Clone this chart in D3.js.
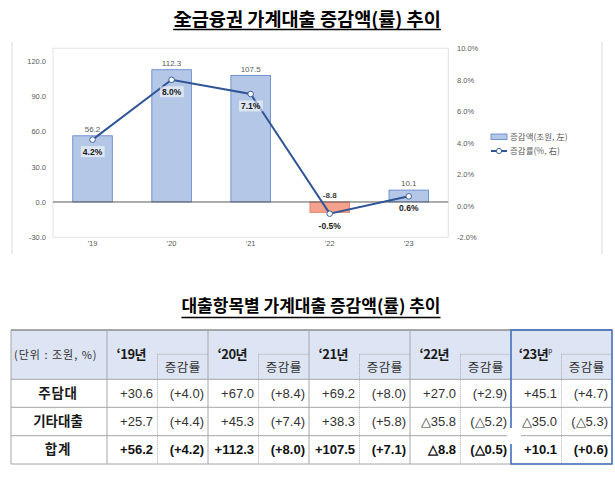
<!DOCTYPE html>
<html>
<head>
<meta charset="utf-8">
<script src="https://cdn.jsdelivr.net/npm/d3@7"></script>
<style>
  html, body { margin: 0; padding: 0; background: #fff; }
  svg { display: block; }
</style>
</head>
<body>
<svg id="chart" width="615" height="477"></svg>
<script>
// ---------------- DATA ----------------
const chartTitle = "全금융권 가계대출 증감액(률) 추이";
const tableTitle = "대출항목별 가계대출 증감액(률) 추이";
const years = ["'19", "'20", "'21", "'22", "'23"];
const amounts = [56.2, 112.3, 107.5, -8.8, 10.1];      // 증감액 (조원, 左)
const rates = [4.2, 8.0, 7.1, -0.5, 0.6];              // 증감률 (%, 右)
const leftTicks = [-30, 0, 30, 60, 90, 120];
const rightTicks = [-2, 0, 2, 4, 6, 8, 10];
const legendLabels = ["증감액(조원, 左)", "증감률(%, 右)"];

const tableYears = ["‘19년", "‘20년", "‘21년", "‘22년", "‘23년"];
const unitLabel = "(단위 : 조원, %)";
const rateHeader = "증감률";
const rowLabels = ["주담대", "기타대출", "합계"];
const mortgageAmt = [30.6, 67.0, 69.2, 27.0, 45.1];
const mortgageRate = [4.0, 8.4, 8.0, 2.9, 4.7];
const otherAmt = [25.7, 45.3, 38.3, -35.8, -35.0];
const otherRate = [4.4, 7.4, 5.8, -5.2, -5.3];
const totalAmt = [56.2, 112.3, 107.5, -8.8, 10.1];
const totalRate = [4.2, 8.0, 7.1, -0.5, 0.6];

// ---------------- SETUP ----------------
const svg = d3.select("#chart");
const KR = "'Noto Sans CJK KR', 'Noto Sans', sans-serif";
const NUM = "'Liberation Sans', Arial, sans-serif";
const loc = d3.formatLocale({ decimal: ".", thousands: ",", grouping: [3], currency: ["", ""], minus: "-" });
const f1 = loc.format(".1f");

// ---------------- TITLES ----------------
function underlinedTitle(text, cx, baseline, size, underlineY) {
  const t = svg.append("text")
    .attr("x", cx).attr("y", baseline)
    .attr("text-anchor", "middle")
    .attr("font-family", KR).attr("font-weight", "bold")
    .attr("font-size", size).attr("fill", "#000")
    .text(text);
  const bb = t.node().getBBox();
  svg.append("line")
    .attr("x1", bb.x).attr("x2", bb.x + bb.width)
    .attr("y1", underlineY).attr("y2", underlineY)
    .attr("stroke", "#000").attr("stroke-width", 1.3);
}
underlinedTitle(chartTitle, 307, 25.5, 18.6, 29.5);

// ---------------- CHART FRAME ----------------
svg.append("line").attr("x1", 12).attr("x2", 12).attr("y1", 42).attr("y2", 254)
  .attr("stroke", "#d9d9d9").attr("stroke-width", 1);
svg.append("line").attr("x1", 602).attr("x2", 602).attr("y1", 42).attr("y2", 254)
  .attr("stroke", "#d9d9d9").attr("stroke-width", 1);

const plot = { left: 53, right: 448.3, top: 48.3, bottom: 237.3 };

const x = d3.scaleBand().domain(years).range([plot.left, plot.right])
  .paddingInner(0.5).paddingOuter(0.25);
const yL = d3.scaleLinear().domain([-30, 130.5]).range([plot.bottom, plot.top]);
const yR = d3.scaleLinear().domain([-2, 10]).range([plot.bottom, plot.top]);

// plot area border
svg.append("rect")
  .attr("x", plot.left).attr("y", plot.top)
  .attr("width", plot.right - plot.left).attr("height", plot.bottom - plot.top)
  .attr("fill", "none").attr("stroke", "#e3e3e3").attr("stroke-width", 1);

// left axis
const axL = d3.axisLeft(yL).tickValues(leftTicks).tickSize(0).tickPadding(0)
  .tickFormat(f1);
const gL = svg.append("g").attr("transform", "translate(46,0)").call(axL);
gL.select(".domain").remove();
gL.selectAll("text").attr("font-family", NUM).attr("font-size", 7.5).attr("fill", "#595959");

// right axis
const axR = d3.axisRight(yR).tickValues(rightTicks).tickSize(0).tickPadding(0)
  .tickFormat(d => f1(d) + "%");
const gR = svg.append("g").attr("transform", "translate(457,0)").call(axR);
gR.select(".domain").remove();
gR.selectAll("text").attr("font-family", NUM).attr("font-size", 7.5).attr("fill", "#595959");

// x labels
const axX = d3.axisBottom(x).tickSize(0).tickPadding(0);
const gX = svg.append("g").attr("transform", "translate(0,241)").call(axX);
gX.select(".domain").remove();
gX.selectAll("text").attr("font-family", NUM).attr("font-size", 7.5).attr("fill", "#595959");

// bars
const bars = years.map((y, i) => ({ y, v: amounts[i], r: rates[i] }));
svg.append("g").selectAll("rect").data(bars).join("rect")
  .attr("x", d => x(d.y))
  .attr("width", x.bandwidth())
  .attr("y", d => yL(Math.max(0, d.v)))
  .attr("height", d => Math.abs(yL(d.v) - yL(0)))
  .attr("fill", d => d.v < 0 ? "#f5a28c" : "#b4c7e7")
  .attr("stroke", d => d.v < 0 ? "#e0785e" : "#5b80c8")
  .attr("stroke-width", 0.8);

// zero line
svg.append("line")
  .attr("x1", plot.left).attr("x2", plot.right)
  .attr("y1", yL(0)).attr("y2", yL(0))
  .attr("stroke", "#595959").attr("stroke-width", 1);

// value labels
svg.append("g").selectAll("text").data(bars).join("text")
  .attr("x", d => x(d.y) + x.bandwidth() / 2)
  .attr("y", d => yL(Math.max(0, d.v)) - 6.5)
  .attr("dy", "0.35em")
  .attr("text-anchor", "middle")
  .attr("font-family", NUM).attr("font-size", 8)
  .attr("font-weight", d => d.v < 0 ? "bold" : "normal")
  .attr("fill", d => d.v < 0 ? "#404040" : "#595959")
  .text(d => f1(d.v));

// line
const line = d3.line().x(d => x(d.y) + x.bandwidth() / 2).y(d => yR(d.r));
svg.append("path").datum(bars)
  .attr("d", line).attr("fill", "none")
  .attr("stroke", "#2f5597").attr("stroke-width", 2);
svg.append("g").selectAll("circle").data(bars).join("circle")
  .attr("cx", d => x(d.y) + x.bandwidth() / 2)
  .attr("cy", d => yR(d.r))
  .attr("r", 2.8)
  .attr("fill", "#fff").attr("stroke", "#2f5597").attr("stroke-width", 0.9);

// rate labels with light boxes
const rl = svg.append("g").selectAll("g").data(bars).join("g");
rl.each(function (d) {
  const g = d3.select(this);
  const cx = x(d.y) + x.bandwidth() / 2;
  const cy = yR(d.r) + 12;
  const t = g.append("text")
    .attr("x", cx).attr("y", cy).attr("dy", "0.35em")
    .attr("text-anchor", "middle")
    .attr("font-family", NUM).attr("font-size", 8.5).attr("font-weight", "bold")
    .attr("fill", "#1a1a1a")
    .text(f1(d.r) + "%");
  const bb = t.node().getBBox();
  g.insert("rect", "text")
    .attr("x", bb.x - 2).attr("y", bb.y - 0.5)
    .attr("width", bb.width + 4).attr("height", bb.height + 1)
    .attr("fill", "#fff").attr("opacity", 0.55);
});

// legend
const lg = svg.append("g");
lg.append("rect").attr("x", 491).attr("y", 134).attr("width", 16).attr("height", 5.5)
  .attr("fill", "#b4c7e7").attr("stroke", "#5b80c8").attr("stroke-width", 0.8);
lg.append("text").attr("x", 510).attr("y", 137).attr("dy", "0.35em")
  .attr("font-family", KR).attr("font-size", 8.5).attr("fill", "#595959")
  .text(legendLabels[0]);
lg.append("line").attr("x1", 491).attr("x2", 507).attr("y1", 151).attr("y2", 151)
  .attr("stroke", "#2f5597").attr("stroke-width", 2);
lg.append("circle").attr("cx", 499).attr("cy", 151).attr("r", 2.6)
  .attr("fill", "#fff").attr("stroke", "#2f5597").attr("stroke-width", 0.9);
lg.append("text").attr("x", 510).attr("y", 151).attr("dy", "0.35em")
  .attr("font-family", KR).attr("font-size", 8.5).attr("fill", "#595959")
  .text(legendLabels[1]);

underlinedTitle(tableTitle, 311, 312, 17, 317.5);

// ---------------- TABLE ----------------
const T = { left: 11, right: 612, top: 330, headBottom: 379.3, bottom: 464 };
const rowLines = [T.headBottom, 407.3, 435.7, T.bottom];
const rowCenters = [393.5, 421.7, 449.5];
const colX = d3.scaleBand().domain(tableYears).range([107, T.right]);
const gw = colX.bandwidth();
const half = gw / 2;
const tb = svg.append("g");

// header background
tb.append("rect").attr("x", T.left).attr("y", T.top)
  .attr("width", T.right - T.left).attr("height", T.headBottom - T.top)
  .attr("fill", "#dde4f4");

// horizontal lines
tb.selectAll("line.h").data(rowLines).join("line").attr("class", "h")
  .attr("x1", T.left).attr("x2", T.right)
  .attr("y1", d => d).attr("y2", d => d)
  .attr("stroke", "#a6a6a6").attr("stroke-width", 1);
tb.append("line").attr("x1", T.left).attr("x2", T.right)
  .attr("y1", T.top).attr("y2", T.top)
  .attr("stroke", "#8c8c8c").attr("stroke-width", 1.5);

// vertical solid lines
const solidX = [T.left, 107].concat(tableYears.map(y => colX(y) + gw));
tb.selectAll("line.v").data(solidX).join("line").attr("class", "v")
  .attr("x1", d => d).attr("x2", d => d)
  .attr("y1", T.top).attr("y2", T.bottom)
  .attr("stroke", "#a6a6a6").attr("stroke-width", 1);

// dotted sub-column lines and header dotted separators
tableYears.forEach(y => {
  const xm = colX(y) + half;
  tb.append("line").attr("x1", xm).attr("x2", xm)
    .attr("y1", 354.3).attr("y2", T.bottom)
    .attr("stroke", "#9a9a9a").attr("stroke-width", 0.8).attr("stroke-dasharray", "1,1");
  tb.append("line").attr("x1", xm).attr("x2", colX(y) + gw)
    .attr("y1", 354.3).attr("y2", 354.3)
    .attr("stroke", "#9a9a9a").attr("stroke-width", 0.8).attr("stroke-dasharray", "1,1");
});

// header texts
tb.append("text").attr("x", 14).attr("y", 355).attr("dy", "0.35em")
  .attr("font-family", KR).attr("font-size", 11).attr("fill", "#333")
  .attr("letter-spacing", 1)
  .text(unitLabel);
tableYears.forEach((y, i) => {
  const t = tb.append("text").attr("x", colX(y) + half / 2 - 1).attr("y", 354).attr("dy", "0.35em")
    .attr("text-anchor", "middle")
    .attr("font-family", KR).attr("font-size", 13).attr("font-weight", "bold")
    .attr("letter-spacing", -0.5).attr("fill", "#1a1a1a");
  t.append("tspan").text(y);
  if (i === tableYears.length - 1) {
    t.append("tspan").attr("font-size", 6.5).attr("dy", "-0.8em").attr("font-weight", "normal").text("p");
  }
  tb.append("text").attr("x", colX(y) + half + half / 2).attr("y", 368).attr("dy", "0.35em")
    .attr("text-anchor", "middle")
    .attr("font-family", KR).attr("font-size", 12.5).attr("fill", "#333")
    .attr("letter-spacing", 0.5)
    .text(rateHeader);
});

// row labels
rowLabels.forEach((r, i) => {
  tb.append("text").attr("x", 58).attr("y", rowCenters[i]).attr("dy", "0.35em")
    .attr("text-anchor", "middle")
    .attr("font-family", KR).attr("font-size", 13.5).attr("font-weight", "bold")
    .attr("fill", "#1a1a1a").attr("letter-spacing", r.length < 4 ? 0.8 : 0)
    .text(r);
});

// numbers
const fmtAmt = v => (v < 0 ? "△" : "+") + f1(Math.abs(v));
const fmtRate = v => "(" + fmtAmt(v) + ")";
const rowsAmt = [mortgageAmt, otherAmt, totalAmt];
const rowsRate = [mortgageRate, otherRate, totalRate];
rowsAmt.forEach((arr, ri) => {
  tableYears.forEach((y, ci) => {
    const bold = ri === 2;
    tb.append("text").attr("x", colX(y) + half - 4.5).attr("y", rowCenters[ri]).attr("dy", "0.35em")
      .attr("text-anchor", "end")
      .attr("font-family", NUM).attr("font-size", 13)
      .attr("font-weight", bold ? "bold" : "normal")
      .attr("fill", bold ? "#111" : "#333")
      .text(fmtAmt(arr[ci]));
    tb.append("text").attr("x", colX(y) + gw - 4).attr("y", rowCenters[ri]).attr("dy", "0.35em")
      .attr("text-anchor", "end")
      .attr("font-family", NUM).attr("font-size", 13)
      .attr("font-weight", bold ? "bold" : "normal")
      .attr("fill", bold ? "#111" : "#333")
      .text(fmtRate(rowsRate[ri][ci]));
  });
});

// highlight box around latest year
const lastY = tableYears[tableYears.length - 1];
tb.append("rect").attr("x", colX(lastY)).attr("y", T.top)
  .attr("width", gw).attr("height", T.bottom - T.top)
  .attr("fill", "none").attr("stroke", "#4472c4").attr("stroke-width", 1.5);
// small white patch seen in the source
tb.append("rect").attr("x", colX(lastY) - 4).attr("y", 428)
  .attr("width", 14).attr("height", 16).attr("fill", "#fff");
</script>
</body>
</html>
